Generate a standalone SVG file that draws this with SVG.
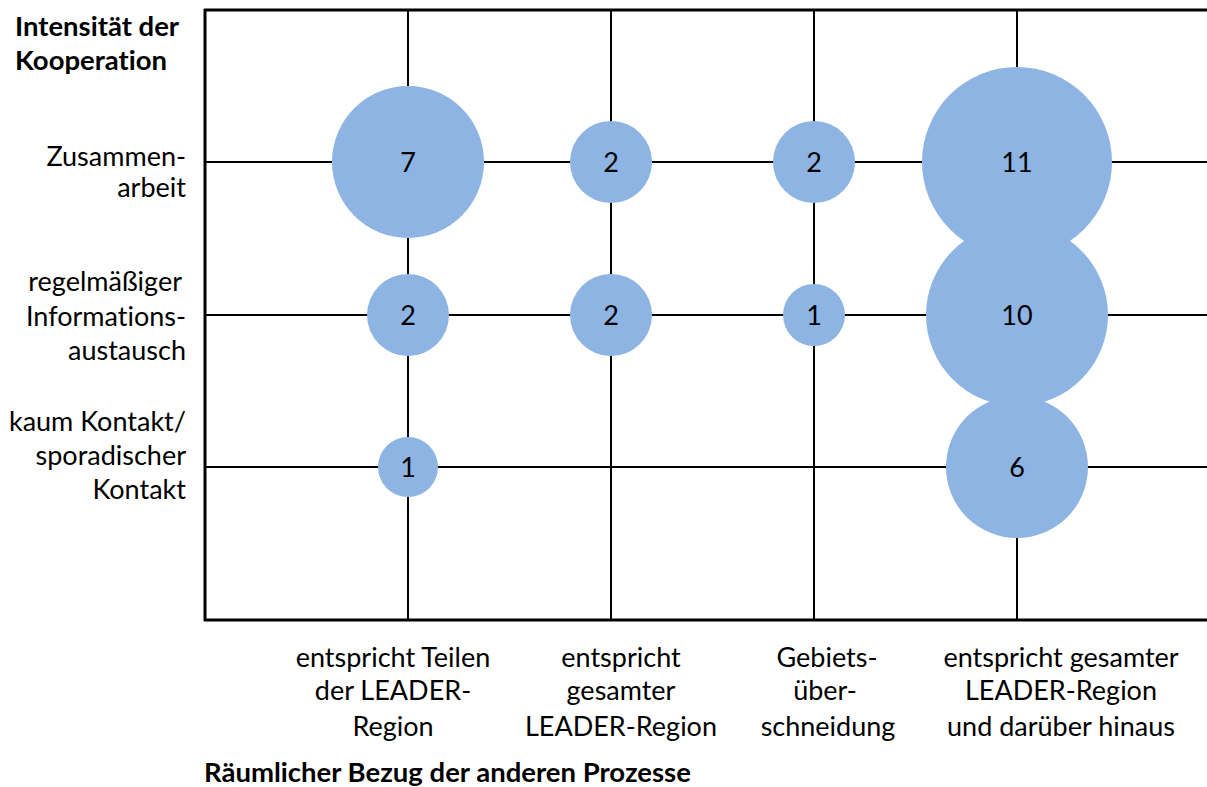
<svg xmlns="http://www.w3.org/2000/svg" width="1207" height="787" viewBox="0 0 1207 787">
<style>
.grid{stroke:#000;stroke-width:2;fill:none}
.axis{stroke:#000;stroke-width:3;fill:none}
.bub{fill:#8EB4E3}
text{font-family:Lato,"Liberation Sans",sans-serif;font-size:27px;fill:#000;font-variant-ligatures:none;font-feature-settings:"liga" 0}
.b{font-weight:bold;font-size:27.5px}
.r{text-anchor:end}
.c{text-anchor:middle}
</style>
<rect width="1207" height="787" fill="#fff"/>
<g id="grid">
<line class="grid" x1="205" y1="162" x2="1207" y2="162"/>
<line class="grid" x1="205" y1="315" x2="1207" y2="315"/>
<line class="grid" x1="205" y1="467" x2="1207" y2="467"/>
<line class="grid" x1="408" y1="10" x2="408" y2="620"/>
<line class="grid" x1="611" y1="10" x2="611" y2="620"/>
<line class="grid" x1="814" y1="10" x2="814" y2="620"/>
<line class="grid" x1="1017" y1="10" x2="1017" y2="620"/>
</g>
<g id="axes">
<line class="axis" x1="204" y1="10" x2="1207" y2="10"/>
<line class="axis" x1="205" y1="9" x2="205" y2="621"/>
<line class="axis" x1="204" y1="620" x2="1207" y2="620"/>
</g>
<g id="b-7"><circle class="bub" cx="408" cy="162" r="76"/><text class="c" x="408" y="172">7</text></g>
<g id="b-2a"><circle class="bub" cx="611" cy="162" r="41"/><text class="c" x="611" y="172">2</text></g>
<g id="b-2b"><circle class="bub" cx="814" cy="162" r="41"/><text class="c" x="814" y="172">2</text></g>
<g id="b-11"><circle class="bub" cx="1017" cy="162" r="95"/><text class="c" x="1017" y="172">11</text></g>
<g id="b-2c"><circle class="bub" cx="408" cy="315" r="41"/><text class="c" x="408" y="325">2</text></g>
<g id="b-2d"><circle class="bub" cx="611" cy="315" r="41"/><text class="c" x="611" y="325">2</text></g>
<g id="b-1a"><circle class="bub" cx="814" cy="315" r="31"/><text class="c" x="814" y="325">1</text></g>
<g id="b-10"><circle class="bub" cx="1017" cy="315" r="91"/><text class="c" x="1017" y="325">10</text></g>
<g id="b-1b"><circle class="bub" cx="408" cy="467" r="30"/><text class="c" x="408" y="477">1</text></g>
<g id="b-6"><circle class="bub" cx="1017" cy="467" r="71"/><text class="c" x="1017" y="477">6</text></g>
<g id="y-title">
<text class="b" x="15" y="36">Intensität der</text>
<text class="b" x="15" y="70">Kooperation</text>
</g>
<g id="y-labels">
<text class="r" x="186" y="166">Zusammen-</text>
<text class="r" x="186" y="197">arbeit</text>
<text class="r" x="182" y="291">regelmäßiger</text>
<text class="r" x="186" y="326">Informations-</text>
<text class="r" x="186" y="360">austausch</text>
<text class="r" x="186" y="431">kaum Kontakt/</text>
<text class="r" x="186" y="465">sporadischer</text>
<text class="r" x="186" y="499">Kontakt</text>
</g>
<g id="x-labels">
<text class="c" x="393" y="667">entspricht Teilen</text>
<text class="c" x="393" y="700">der LEADER-</text>
<text class="c" x="393" y="736">Region</text>
<text class="c" x="621" y="667">entspricht</text>
<text class="c" x="621" y="700">gesamter</text>
<text class="c" x="621" y="736">LEADER-Region</text>
<text class="c" x="827" y="667">Gebiets-</text>
<text class="c" x="825" y="700">über-</text>
<text class="c" x="828" y="736">schneidung</text>
<text class="c" x="1061" y="667">entspricht gesamter</text>
<text class="c" x="1061" y="700">LEADER-Region</text>
<text class="c" x="1061" y="736">und darüber hinaus</text>
</g>
<g id="x-title">
<text class="b" x="204" y="782">Räumlicher Bezug der anderen Prozesse</text>
</g>
</svg>
